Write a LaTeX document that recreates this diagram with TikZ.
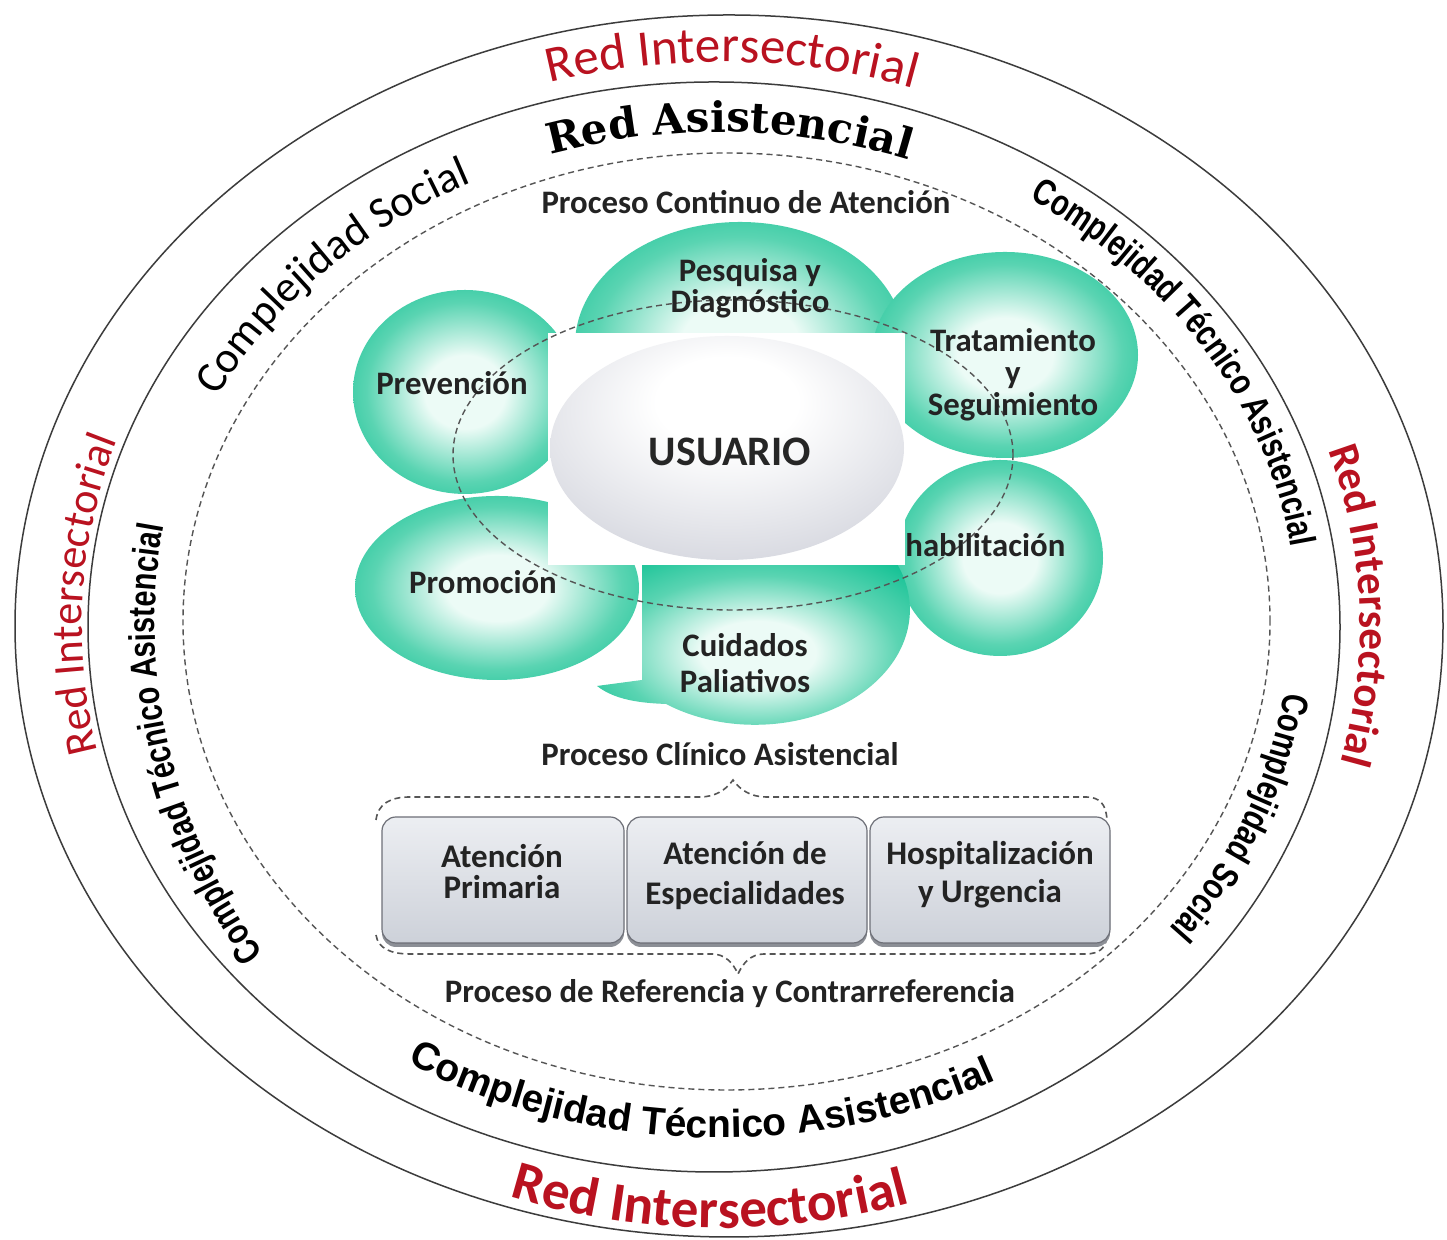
\documentclass[tikz,border=0pt]{standalone}
\usepackage{fontspec}
\setmainfont{Carlito}
\newfontfamily\arialf{Liberation Sans}
\newfontfamily\arialnf[FakeStretch=0.78]{Liberation Sans}
\newfontfamily\dvserif{DejaVu Serif}
\usetikzlibrary{decorations.text}
\definecolor{ringcol}{RGB}{60,60,60}
\definecolor{dashcol}{RGB}{85,85,85}
\definecolor{redint}{RGB}{185,18,32}
\definecolor{lblcol}{RGB}{35,35,35}
\definecolor{blobin}{RGB}{236,251,246}
\definecolor{blobmid}{RGB}{90,212,178}
\definecolor{blobout}{RGB}{14,192,146}
\definecolor{blobedge}{RGB}{8,182,136}
\definecolor{usug}{RGB}{202,204,214}
\definecolor{boxtop}{RGB}{236,238,242}
\definecolor{boxbot}{RGB}{205,209,217}
\definecolor{boxedge}{RGB}{110,112,120}
\definecolor{boxshadow}{RGB}{140,143,150}
\pgfdeclareradialshading{blobsh}{\pgfpoint{0bp}{0bp}}{color(0bp)=(blobin); color(9bp)=(blobin); color(22bp)=(blobmid); color(34bp)=(blobout); color(50bp)=(blobedge)}
\pgfdeclareradialshading{usush}{\pgfpoint{0bp}{12bp}}{color(0bp)=(white); color(10bp)=(white); color(40bp)=(usug); color(70bp)=(usug)}
\begin{document}
\begin{tikzpicture}[x=0.5pt,y=0.5pt,
  ring/.style={draw=ringcol,line width=0.75pt},
  ringdash/.style={draw=dashcol,line width=0.7pt,dash pattern=on 3pt off 2pt},
  bracedash/.style={draw=dashcol,line width=0.8pt,dash pattern=on 3pt off 2pt},
  lbl/.style={font=\bfseries\fontsize{16.4}{15.5}\selectfont,text=lblcol,align=center,inner sep=0pt},
  procbox/.style={draw=boxedge,line width=0.6pt,rounded corners=7pt,top color=boxtop,bottom color=boxbot,
     minimum height=63pt,inner sep=0pt},
  boxshade/.style={fill=boxshadow,rounded corners=7pt,minimum height=63pt,inner sep=0pt}
]
\useasboundingbox (0,0) rectangle (1447,1240);
\fill[white] (0,0) rectangle (1447,1240);

% rings
\draw[ring] (729,614) ellipse[x radius=714, y radius=611];
\draw[ring] (714,613) ellipse[x radius=626, y radius=545];
\draw[ringdash] (726.5,618.5) ellipse[x radius=543.5, y radius=468.5];

% outer ring texts (Red Intersectorial)
\path[decorate,decoration={text along path,text align=center,text color=redint,
  text={|\fontsize{25.5}{30}\selectfont|Red Intersectorial}}]
  (721,614) ++(130:639 and 564) arc[start angle=130,end angle=48,x radius=639,y radius=564];
\path[decorate,decoration={text along path,text align=center,text color=redint,
  text={|\fontsize{22}{26}\selectfont|Red Intersectorial}}]
  (721,614) ++(220:639 and 564) arc[start angle=220,end angle=134,x radius=639,y radius=564];
\path[decorate,decoration={text along path,text align=center,text color=redint,
  text={|\bfseries\fontsize{21.5}{26}\selectfont|Red Intersectorial}}]
  (721,614) ++(45:639 and 564) arc[start angle=45,end angle=-41,x radius=639,y radius=564];
\path[decorate,decoration={text along path,text align=center,text color=redint,
  text={|\bfseries\fontsize{27.5}{30}\selectfont|Red Intersectorial}}]
  (721,614) ++(228:660 and 602) arc[start angle=228,end angle=310,x radius=660,y radius=602];

% inner ring texts
\path[decorate,decoration={text along path,text align=center,text color=black,
  text={|\dvserif\bfseries\fontsize{21}{24}\selectfont|Red Asistencial}}]
  (720,616) ++(125:570 and 492) arc[start angle=125,end angle=53,x radius=570,y radius=492];
\path[decorate,decoration={text along path,text align=center,text color=black,
  text={|\fontsize{22}{26}\selectfont|Complejidad Social}}]
  (720,616) ++(175:567 and 491) arc[start angle=175,end angle=96,x radius=567,y radius=491];
\path[decorate,decoration={text along path,text align=center,text color=black,
  text={|\arialnf\bfseries\fontsize{18.5}{22}\selectfont|Complejidad Técnico Asistencial}}]
  (720,616) ++(70:578 and 503) arc[start angle=70,end angle=-5,x radius=578,y radius=503];
\path[decorate,decoration={text along path,text align=center,text color=black,
  text={|\arialnf\bfseries\fontsize{18.5}{22}\selectfont|Complejidad Social}}]
  (720,616) ++(5:570 and 495) arc[start angle=5,end angle=-50,x radius=570,y radius=495];
\path[decorate,decoration={text along path,text align=center,text color=black,
  text={|\arialnf\bfseries\fontsize{18.5}{22}\selectfont|Complejidad Técnico Asistencial}}]
  (720,616) ++(234:565 and 558) arc[start angle=234,end angle=152,x radius=565,y radius=558];
\path[decorate,decoration={text along path,text align=center,text color=black,
  text={|\arialf\bfseries\fontsize{19.5}{24}\selectfont|Complejidad Técnico Asistencial}}]
  (720,616) ++(237:600 and 514) arc[start angle=237,end angle=299,x radius=600,y radius=514];

\node[lbl] (pca) at (746,1038) {Proceso Continuo de Atención};

% blobs
\shade[shading=blobsh] (740,895) ellipse[x radius=165, y radius=123];
\shade[shading=blobsh] (465,848) ellipse[x radius=112, y radius=102];
\shade[shading=blobsh] (1005,885) ellipse[x radius=133, y radius=103];
\shade[shading=blobsh] (1000,682) ellipse[x radius=103, y radius=98];
\shade[shading=blobsh] (497,652) ellipse[x radius=142, y radius=92];
\shade[shading=blobsh] (642,675) -- (642,560) -- (597,554) .. controls (615,540) and (640,537) .. (666,536)
   arc[start angle=235,end angle=383,x radius=155,y radius=115] -- cycle;

% white picture box and user ellipse
\fill[white] (548,675) rectangle (905,907);
\shade[shading=usush] (727,792) ellipse[x radius=177, y radius=112];

% dashed flower ring
\draw[ringdash] (733,785) ellipse[x radius=280, y radius=155];

\node[lbl] (pes) at (750,952) {Pesquisa y\\Diagnóstico};
\node[lbl] (pre) at (452,857) {Prevención};
\node[lbl,font=\bfseries\fontsize{16.4}{16}\selectfont] (tra) at (1013,865) {Tratamiento\\y\\Seguimiento};
\node[lbl,anchor=west] (reh) at (905,695) {habilitación};
\node[lbl] (pro) at (483,658) {Promoción};
\node[lbl,font=\bfseries\fontsize{16.4}{18}\selectfont] (cui) at (745,577) {Cuidados\\Paliativos};
\node[lbl,font=\bfseries\fontsize{21}{24}\selectfont,text=black!85] (usu) at (730,788) {USUARIO};

\node[lbl] (pcl) at (720,486) {Proceso Clínico Asistencial};

% braces
\draw[bracedash] (376,420) .. controls (378,436) and (390,443) .. (410,443) -- (700,443)
   .. controls (715,443) and (726,450) .. (733,460) .. controls (740,450) and (751,443) .. (766,443)
   -- (1085,443) .. controls (1100,443) and (1106,436) .. (1107,420);
\draw[bracedash] (376,305) .. controls (378,292) and (390,286) .. (410,286) -- (712,286)
   .. controls (725,286) and (733,277) .. (738,266) .. controls (743,277) and (751,286) .. (764,286)
   -- (1085,286) .. controls (1100,286) and (1106,292) .. (1107,305);

% process boxes
\node[boxshade,minimum width=121pt] (s1) at (503,356) {};
\node[boxshade,minimum width=120pt] (s2) at (747,356) {};
\node[boxshade,minimum width=120pt] (s3) at (990,356) {};
\node[procbox,minimum width=121pt] (ap) at (503,360) {};
\node[procbox,minimum width=120pt] (ae) at (747,360) {};
\node[procbox,minimum width=120pt] (hu) at (990,360) {};
\node[lbl,font=\bfseries\fontsize{16.5}{15.5}\selectfont] (apt) at (502,368) {Atención\\Primaria};
\node[lbl,font=\bfseries\fontsize{16.5}{20}\selectfont] (aet) at (745,364) {Atención de\\Especialidades};
\node[lbl,font=\bfseries\fontsize{16.5}{19}\selectfont] (hut) at (990,365) {Hospitalización\\y Urgencia};

\node[lbl] (prc) at (730,246) {Proceso de Referencia y Contrarreferencia};
\end{tikzpicture}
\end{document}
